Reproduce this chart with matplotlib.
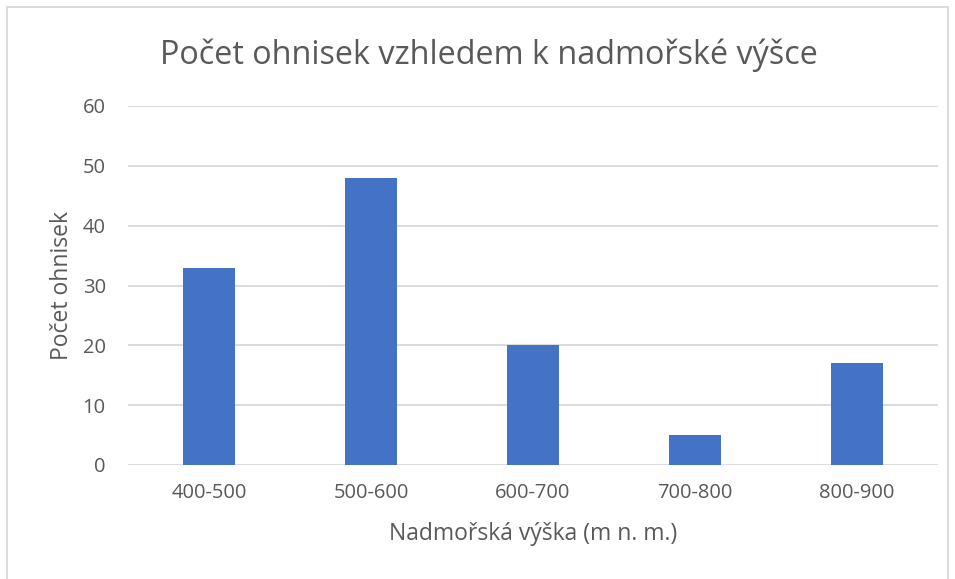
import matplotlib
matplotlib.use("Agg")
import matplotlib.pyplot as plt
from matplotlib.patches import Rectangle

categories = ["400-500", "500-600", "600-700", "700-800", "800-900"]
counts = [33, 48, 20, 5, 17]
yticks = [0, 10, 20, 30, 40, 50, 60]

TEXT = "#595959"
GRID = "#d9d9d9"
BAR = "#4472c4"

plt.rcParams["font.family"] = ["Open Sans", "DejaVu Sans"]

fig = plt.figure(figsize=(9.55, 5.79), dpi=100)
ax = fig.add_axes([128 / 955, 1 - 465 / 579, (938 - 128) / 955, (465 - 106) / 579])

x = range(len(categories))
ax.bar(x, counts, width=0.32, color=BAR, zorder=3)
ax.set_xlim(-0.5, len(categories) - 0.5)
ax.set_ylim(0, 60)
ax.set_yticks(yticks)
ax.set_xticks(list(x))
ax.set_xticklabels(categories)
ax.tick_params(axis="both", length=0, labelsize=14.5, labelcolor=TEXT)
ax.tick_params(axis="x", pad=13)
ax.tick_params(axis="y", pad=16)
ax.grid(axis="y", color=GRID, linewidth=1.3, zorder=0)
for s in ax.spines.values():
    s.set_visible(False)

ax.set_ylabel("Počet ohnisek", fontsize=16.5, color=TEXT, labelpad=6)
ax.set_xlabel("Nadmořská výška (m n. m.)", fontsize=16.5, color=TEXT, labelpad=14)
fig.text(489 / 955, 1 - 55 / 579, "Počet ohnisek vzhledem k nadmořské výšce",
         ha="center", va="center", fontsize=23.3, color=TEXT)

# chart frame
fig.patches.append(Rectangle((7 / 955, -0.05), (948 - 7) / 955, 1 - 7 / 579 + 0.05,
                             transform=fig.transFigure, fill=False,
                             edgecolor=GRID, linewidth=1.3))

fig.savefig("out.png", dpi=100)
